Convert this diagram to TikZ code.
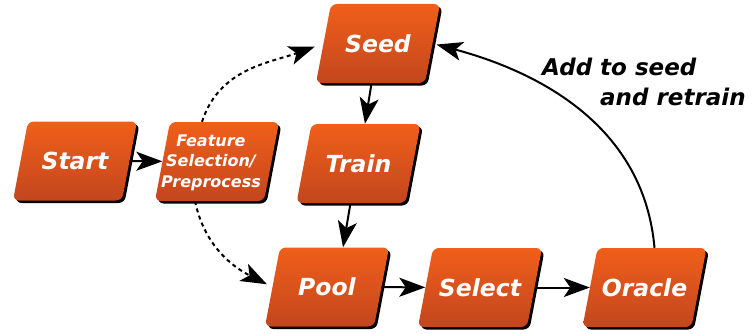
\documentclass[tikz,border=0pt]{standalone}
\usepackage{fontspec}
\newfontfamily\djfont{DejaVu Sans}
\usetikzlibrary{arrows.meta}
\definecolor{boxtop}{HTML}{F05F1A}
\definecolor{boxbot}{HTML}{C3461E}
\newcommand\slbox[4]{%
  \begin{scope}[shift={(#2,#3)}]
    \fill[black, rounded corners=6pt, shift={(2.5,-2.5)}]
      (-62,-39.5) -- (47,-39.5) -- (62,39.5) -- (-47,39.5) -- cycle;
    \shade[top color=boxtop, bottom color=boxbot, rounded corners=6pt]
      (-62,-39.5) -- (47,-39.5) -- (62,39.5) -- (-47,39.5) -- cycle;
  \end{scope}
  \node[box] (#1) at (#2,#3) {#4};}
\begin{document}
\begin{tikzpicture}[x=1pt,y=1pt,
  box/.style={rectangle, minimum width=109pt, minimum height=79pt, inner sep=0pt,
    text=white, font=\djfont\bfseries\itshape\fontsize{23.5}{26}\selectfont},
  feattext/.style={text=white, align=center, inner sep=0pt,
    font=\djfont\bfseries\itshape\fontsize{16}{20.5}\selectfont},
  caption/.style={text=black, align=left, inner sep=0pt,
    font=\djfont\bfseries\itshape\fontsize{23}{30}\selectfont},
  arr/.style={line width=2pt, -{Stealth[length=26pt,width=19pt,inset=6.5pt]}},
  dotarr/.style={arr, dash pattern=on 4pt off 3.5pt}
]
\useasboundingbox (0,0) rectangle (752,333);
\slbox{start}{75}{172}{Start}
\slbox{feat}{217}{171.5}{}
\node[feattext] (feattxt) at ([xshift=-6pt,yshift=-1pt]feat.center) {Feature\\Selection/\\Preprocess};
\slbox{seed}{378}{289.5}{Seed}
\slbox{train}{358.5}{169.5}{Train}
\slbox{pool}{327}{46}{Pool}
\slbox{select}{480}{45.5}{Select}
\slbox{oracle}{644.5}{45.5}{Oracle}
\node[caption, anchor=west] (note) at (542,251) {Add to seed\\\hspace*{58pt}and retrain};

\draw[arr] (start) -- (feat);
\draw[arr] (seed) -- (train);
\draw[arr] ([xshift=-8pt]train.south) -- ([xshift=16pt]pool.north);
\draw[arr] (pool) -- (select);
\draw[arr] (select) -- (oracle);
\draw[dotarr, shorten >=9pt] ([xshift=-15pt]feat.north) to[out=72, in=200] (seed.west);
\draw[dotarr, shorten >=6pt] ([xshift=-22pt]feat.south) to[out=-78, in=153] (pool.west);
\draw[arr, shorten >=4pt] ([xshift=10pt]oracle.north) to[out=95, in=-15, looseness=1] (seed.east);
\end{tikzpicture}
\end{document}
